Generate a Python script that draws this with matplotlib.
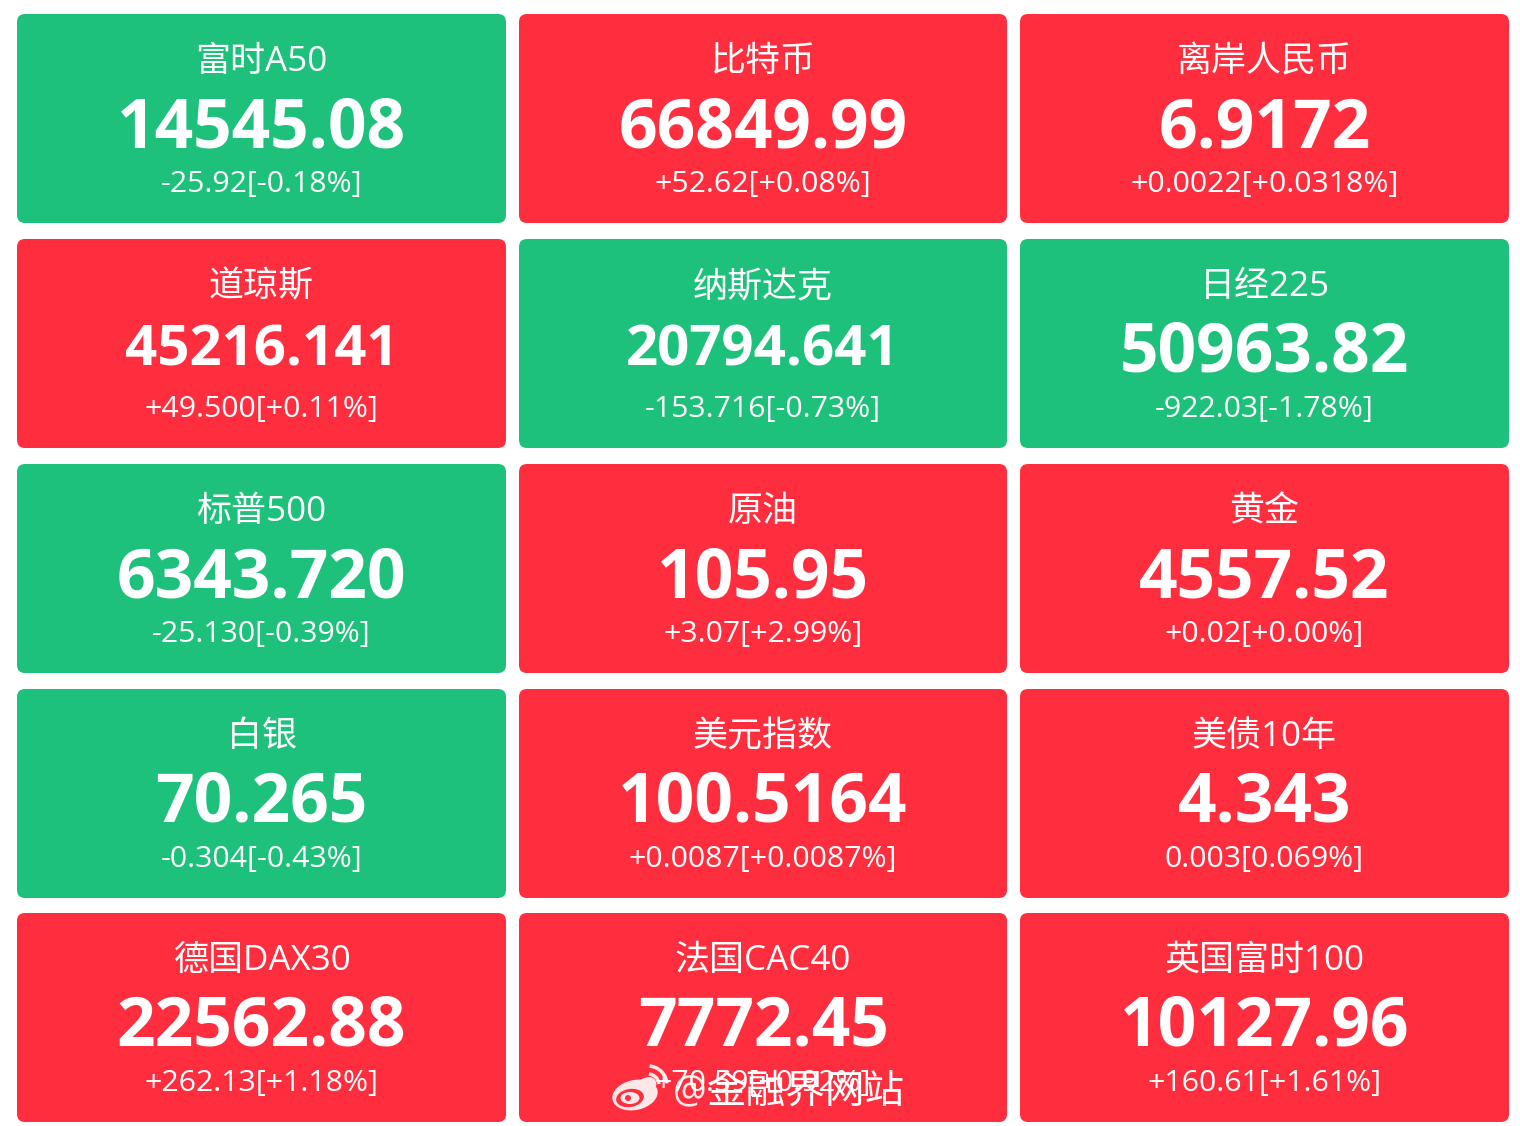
import matplotlib.pyplot as plt
from matplotlib.patches import FancyBboxPatch, Ellipse, Arc

names = ['富时A50', '比特币', '离岸人民币',
         '道琼斯', '纳斯达克', '日经225',
         '标普500', '原油', '黄金',
         '白银', '美元指数', '美债10年',
         '德国DAX30', '法国CAC40', '英国富时100']
prices = ['14545.08', '66849.99', '6.9172',
          '45216.141', '20794.641', '50963.82',
          '6343.720', '105.95', '4557.52',
          '70.265', '100.5164', '4.343',
          '22562.88', '7772.45', '10127.96']
changes = ['-25.92[-0.18%]', '+52.62[+0.08%]', '+0.0022[+0.0318%]',
           '+49.500[+0.11%]', '-153.716[-0.73%]', '-922.03[-1.78%]',
           '-25.130[-0.39%]', '+3.07[+2.99%]', '+0.02[+0.00%]',
           '-0.304[-0.43%]', '+0.0087[+0.0087%]', '0.003[0.069%]',
           '+262.13[+1.18%]', '+70.59[+0.92%]', '+160.61[+1.61%]']
is_green = [1, 0, 0,
            0, 1, 1,
            1, 0, 0,
            1, 0, 0,
            0, 0, 0]

GREEN = '#1EC17C'
RED = '#FF2E3E'
LOGO = '#FCE8E8'
fonts = ['Open Sans', 'Noto Sans CJK SC', 'DejaVu Sans']
cjk_first = ['Noto Sans CJK SC', 'DejaVu Sans']

col_left = [17, 519, 1020]
col_right = [506, 1007, 1509]
row_top = [14, 239, 464, 689, 913]
card_h = 209

fig = plt.figure(figsize=(15.2, 11.26), dpi=100)
ax = fig.add_axes([0, 0, 1, 1])
ax.set_xlim(0, 1520)
ax.set_ylim(1126, 0)
ax.axis('off')

for i in range(len(names)):
    r, c = divmod(i, 3)
    x0, x1 = col_left[c], col_right[c]
    y0 = row_top[r]
    color = GREEN if is_green[i] else RED
    pad = 8
    ax.add_patch(FancyBboxPatch((x0 + pad, y0 + pad), x1 - x0 - 2 * pad, card_h - 2 * pad,
                                boxstyle=f'round,pad={pad},rounding_size={pad}',
                                fc=color, ec='none'))
    xc = (x0 + x1) / 2
    # the long nine character prices are set smaller in the original
    long_price = len(prices[i]) > 8
    price_size = 40.6 if long_price else 48.7
    price_y = y0 + (127 if long_price else 133)
    ax.text(xc, y0 + 57, names[i], color='white', fontsize=25.2, ha='center', va='baseline', family=fonts)
    ax.text(xc, price_y, prices[i], color='white', fontsize=price_size, fontweight='bold',
            ha='center', va='baseline', family=fonts)
    ax.text(xc, y0 + 178, changes[i], color='white', fontsize=21.8, ha='center', va='baseline', family=fonts)

# watermark
ax.text(673, 1092, '@', color='white', fontsize=27, ha='left', va='center', family=fonts, alpha=0.9)
ax.text(707, 1092, '金融界网站', color='white', fontsize=28.5, ha='left', va='center', family=cjk_first)
ax.add_patch(Ellipse((635, 1095), 46, 30, angle=-12, fc=LOGO, ec='none'))
ax.add_patch(Ellipse((646, 1086), 22, 16, angle=-30, fc=LOGO, ec='none'))
ax.add_patch(Ellipse((630, 1098), 28, 18, angle=-10, fc=RED, ec='none'))
ax.add_patch(Ellipse((630, 1098), 19, 12, fc=LOGO, ec='none'))
ax.add_patch(Ellipse((628, 1098), 6, 6, fc=RED, ec='none'))
for d in (22, 38):
    ax.add_patch(Arc((648, 1085), d, d, theta1=-85, theta2=-5, ec=LOGO, lw=2.5))

fig.savefig('out.png', dpi=100, facecolor='white')
